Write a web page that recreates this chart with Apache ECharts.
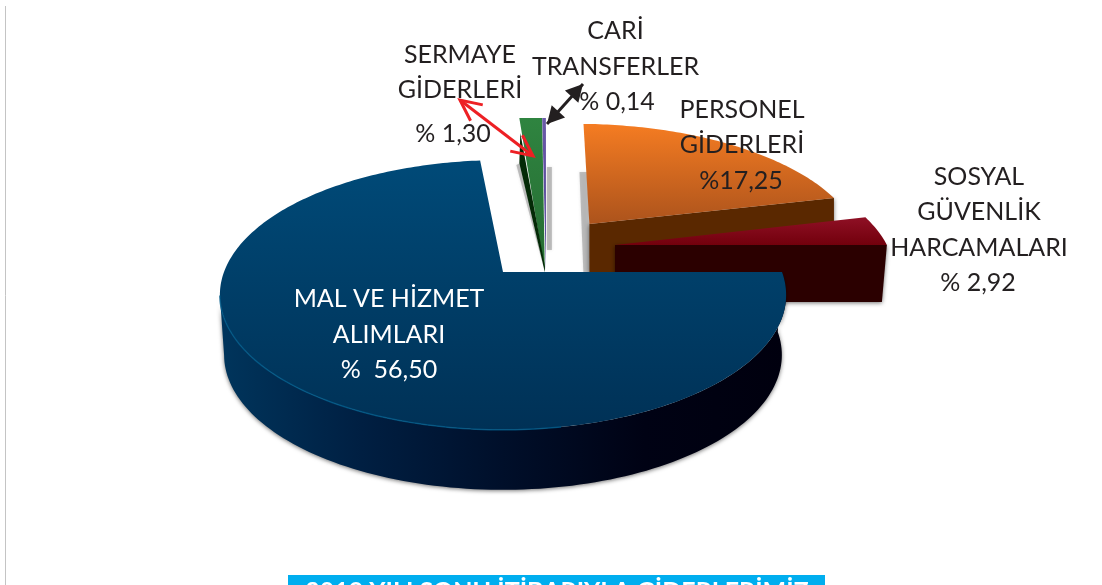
<!DOCTYPE html>
<html><head><meta charset="utf-8">
<style>html,body{margin:0;padding:0;background:#fff}#c{width:1102px;height:585px}</style>
<script src="https://cdn.jsdelivr.net/npm/echarts@6/dist/echarts.min.js"></script>
</head><body><div id="c"></div>
<script>
// Slices, counter-clockwise from the east edge of the pie
const categories = ['SOSYAL\nGÜVENLİK\nHARCAMALARI', 'PERSONEL\nGİDERLERİ', 'CARİ\nTRANSFERLER', 'SERMAYE\nGİDERLERİ', 'MAL VE HİZMET\nALIMLARI'];
const percentTexts = ['% 2,92', '%17,25', '% 0,14', '% 1,30', '%  56,50'];
const values = [2.92, 17.25, 0.14, 1.30, 56.50];
const footerTitle = '2019 YILI SONU İTİBARIYLA GİDERLERİMİZ';

// Styling / layout per slice (same order as above)
const sliceStyle = [
  {z: 2, ox: .416, oy: .214, r: 1.01, from: 0, to: 0, top: ['#8f1025', '#72000c'], side: '#2b0000', depth: 57, lx: 979, ly: 212, px: 978, py: 283, color: '#231f20'},
  {z: 1, ox: .33, oy: .39, r: 1.01, from: 0, to: -4.5, top: ['#f57c22', '#ac531c'], side: '#5a2800', depth: 60, lx: 742, ly: 127.5, px: 741, py: 181, color: '#231f20'},
  {z: 4, ox: .154, oy: 0, r: 1.47, from: -4.45, to: -4.45, top: ['#6a5aa8', '#4d3f92'], side: '#2a2255', depth: 0, lx: 615.5, ly: 49, px: 617, py: 102, color: '#231f20'},
  {z: 3, ox: .15, oy: 0, r: 1.47, from: -4.6, to: -6.6, top: ['#2f8440', '#256b32'], side: '#042a07', depth: 0, lx: 460, ly: 72.5, px: 453, py: 134, color: '#231f20'},
  {z: 5, ox: 0, oy: 0, r: 1, from: -4.1, to: 0, top: ['#004a78', '#003156'], side: '#001a3a', depth: 60, lx: 389, ly: 317, px: 389, py: 370, color: '#ffffff'}
];
const LH = 35.5, FONT = '25px Lato';
const AX = 503, AY = 272, RX = 279, RY = 131, K = 0.17;
const total = values.reduce((a, b) => a + b, 0);

function project(u, v) {
  const w = 1 + K * v;
  return [AX + RX * u / w, AY - RY * v / w];
}
function arc(s, a0, a1, n) {
  const pts = [];
  for (let i = 0; i <= n; i++) {
    const a = (a0 + (a1 - a0) * i / n) * Math.PI / 180;
    pts.push(project(s.ox + s.r * Math.cos(a), s.oy + s.r * Math.sin(a)));
  }
  return pts;
}
const vGrad = c => new echarts.graphic.LinearGradient(0, 0, 0, 1, [{offset: 0, color: c[0]}, {offset: 1, color: c[1]}]);
const softGray = {fill: 'rgba(120,120,120,.42)', shadowBlur: 3, shadowColor: 'rgba(110,110,110,.45)'};

function renderItem(params, api) {
  const i = params.dataIndex, s = sliceStyle[i];
  let before = 0;
  for (let k = 0; k < i; k++) before += values[k];
  const a0 = before / total * 360 + s.from;
  const a1 = (before + api.value(0)) / total * 360 + s.to;
  const apex = project(s.ox, s.oy);
  const rim = arc(s, a0, a1, Math.max(6, Math.ceil(a1 - a0)));
  const kids = [];
  const shadow = {shadowBlur: 4, shadowColor: 'rgba(0,0,0,.55)', shadowOffsetX: 0, shadowOffsetY: 1};

  if (i === 4) { // main slice: front wall from the west extreme round to east
    const f = arc(s, 190, 360, 120);
    const cx = 501;
    const wall = f.concat(f.slice().reverse().map(p => [cx + (p[0] - cx) * 0.985, p[1] + s.depth]));
    kids.push({type: 'polygon', shape: {points: wall}, z2: s.z, style: Object.assign({
      fill: new echarts.graphic.LinearGradient(0, 0, 1, 0, [
        {offset: 0, color: '#00355c'}, {offset: .25, color: '#001f42'}, {offset: .5, color: '#000f2a'}, {offset: .75, color: '#000214'}, {offset: 1, color: '#00000e'}])}, shadow)});
  } else if (s.depth > 0) { // exploded slice: cut wall facing the viewer
    const low = project(s.ox + s.r * Math.cos(a0 * Math.PI / 180), s.oy + s.r * Math.sin(a0 * Math.PI / 180));
    kids.push({type: 'polygon', z2: s.z, shape: {points: [apex, low, [low[0] - (i === 0 ? 5 : 0), low[1] + s.depth], [apex[0], apex[1] + s.depth]]},
      style: Object.assign({fill: s.side}, shadow)});
    if (i === 1) { // soft shadow strip down the left of the wedge
      const c = rim[rim.length - 1];
      kids.push({type: 'polygon', z2: s.z - 0.1, shape: {points: [[c[0] - 4, c[1] + 48], [apex[0], c[1] + 48], [apex[0], apex[1] + 48], [apex[0] - 6, apex[1] + 48]]}, style: softGray});
    }
  } else if (i === 3) { // green sliver: tapered dark inner face
    const c = rim[rim.length - 1];
    kids.push({type: 'polygon', z2: s.z + 0.1, shape: {points: [[c[0] + 1, c[1] + 15], [c[0], c[1] + 45], apex, [apex[0], apex[1] - 6]]}, style: {fill: s.side}});
    kids.push({type: 'polygon', z2: s.z - 0.1, shape: {points: [[c[0] - 3, c[1] + 47], [c[0] + 1, c[1] + 45], apex]}, style: softGray});
  } else if (i === 2) { // soft shadow strip beside the purple sliver
    const c = rim[0];
    kids.push({type: 'polygon', z2: s.z - 0.1, shape: {points: [[c[0] + 1, c[1] + 49], [c[0] + 6, c[1] + 49], [c[0] + 6, c[1] + 132], [c[0] + 1, c[1] + 132]]}, style: softGray});
  }
  kids.push({type: 'polygon', z2: s.z + 0.05, shape: {points: [apex].concat(rim)}, style: {fill: vGrad(s.top)}});
  if (i === 4) {
    kids.push({type: 'polyline', z2: s.z + 0.2, shape: {points: arc(s, 190, 280, 80)},
      style: {fill: 'none', stroke: '#005a88', lineWidth: 1.5, opacity: .8}});
  }
  kids.push({type: 'text', z2: 9, style: {
    text: categories[i], x: s.lx, y: s.ly, align: 'center', verticalAlign: 'middle',
    font: FONT, lineHeight: LH, fill: s.color}});
  kids.push({type: 'text', z2: 9, style: {
    text: percentTexts[i], x: s.px, y: s.py, align: 'center', verticalAlign: 'middle',
    font: FONT, fill: s.color}});
  return {type: 'group', children: kids};
}

const arrow = (a, b, open, color, w) => {
  const out = [{type: 'line', z: 20, shape: {x1: a[0], y1: a[1], x2: b[0], y2: b[1]}, style: {stroke: color, lineWidth: w}}];
  const L = open ? 21 : 17, H = open ? 10 : 9;
  [[a, b], [b, a]].forEach(([tip, o]) => {
    const d = Math.hypot(o[0] - tip[0], o[1] - tip[1]), ux = (o[0] - tip[0]) / d, uy = (o[1] - tip[1]) / d;
    const p1 = [tip[0] + ux * L - uy * H, tip[1] + uy * L + ux * H], p2 = [tip[0] + ux * L + uy * H, tip[1] + uy * L - ux * H];
    out.push(open
      ? {type: 'polyline', z: 20, shape: {points: [p1, tip, p2]}, style: {fill: 'none', stroke: color, lineWidth: w}}
      : {type: 'polygon', z: 20, shape: {points: [p1, tip, p2]}, style: {fill: color}});
  });
  return out;
};

const chart = echarts.init(document.getElementById('c'), null, {renderer: 'canvas'});
chart.setOption({
  animation: false,
  backgroundColor: '#ffffff',
  graphic: {elements: [
    {type: 'line', z: 1, shape: {x1: 5.5, y1: 6, x2: 5.5, y2: 585}, style: {stroke: '#c4c4c4', lineWidth: 1}},
    {type: 'rect', z: 1, shape: {x: 288, y: 575, width: 537, height: 10}, style: {fill: '#00aeef'}},
    {type: 'text', z: 2, style: {text: footerTitle, x: 557, y: 579, align: 'center', verticalAlign: 'top', font: 'bold 25px Lato', fill: '#ffffff'}}
  ].concat(arrow([460, 100], [533, 156], true, '#ed2024', 3), arrow([583, 84], [547, 124], false, '#231f20', 3))},
  series: [{
    type: 'custom',
    coordinateSystem: 'none',
    renderItem: renderItem,
    silent: true,
    data: values.map((v, i) => ({value: [v], name: categories[i]}))
  }]
});
</script></body></html>
